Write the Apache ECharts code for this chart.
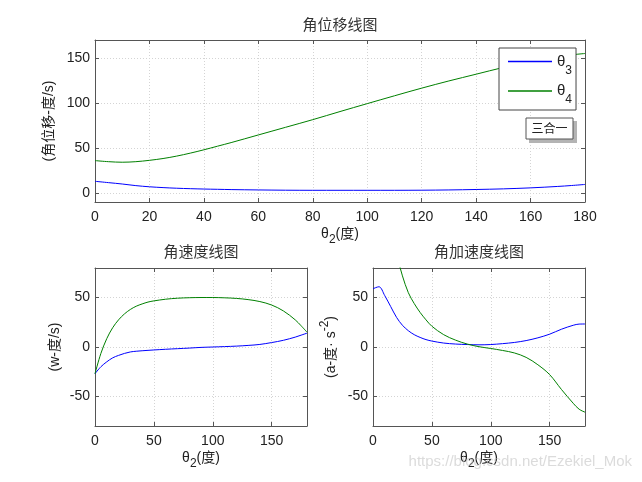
<!DOCTYPE html>
<html><head><meta charset="utf-8">
<script src="https://cdn.jsdelivr.net/npm/echarts@6.0.0/dist/echarts.min.js"></script>
<style>html,body{margin:0;padding:0;background:#fff}#c{width:642px;height:482px}</style>
</head><body><div id="c"></div>
<script>
// x values: crank angle theta2 (deg)
const theta2 = [0,5,10,15,20,25,30,35,40,45,50,60,70,80,90,100,110,120,130,140,150,160,170,175,180];
// angular displacement (deg)
const theta3 = [13,11.5,10,8.2,6.9,6,5.3,4.8,4.4,4.1,3.8,3.4,3.1,3,3,3,3,3.1,3.4,3.9,4.6,5.7,7.3,8.3,9.5];
const theta4 = [36,34.8,34.2,34.8,36.3,38.3,41,44.3,48,52,56,64.5,73,81.5,90.5,99.3,108,116.5,124.5,132,139.5,146,151.5,153.5,155];
// angular velocity
const omega3 = [-27,-20,-15,-11,-8.5,-6.5,-5,-4.3,-3.8,-3.4,-3,-2.3,-1.7,-1.1,-0.4,0,0.4,0.9,1.6,2.6,4.5,6.8,10,12,14];
const omega4 = [-27,-6.5,8.5,19.5,27.5,33.5,38,41.3,43.6,45.5,46.7,48.4,49.4,49.9,50.1,50.1,49.8,49.2,48,46,42.5,36.5,27.5,21.5,15];
// angular acceleration
const alpha3 = [59,61,52,41,30,22,16.5,12.5,9.7,7.5,6,4,3,2.5,2.2,2.5,3.4,4.6,6.5,9.3,13,18,22,23.2,23.3];
const alpha4 = [175,150,128,110,93,72,55,44,35,27.5,21,12.5,7,3,0.3,-1.5,-3.5,-6,-10.5,-18,-28,-43,-57,-63,-66];

const xTicksTop = [0,20,40,60,80,100,120,140,160,180];
const yTicksTop = [0,50,100,150];
const xTicksBot = [0,50,100,150];
const yTicksBot = [-50,0,50];

const pair = (xs, ys) => xs.map((x, i) => [x, ys[i]]);
const BLUE = '#0000ff', GREEN = '#008000';
const FONT = "'Liberation Sans', 'Noto Sans CJK SC', sans-serif";
const AX = '#555';

const richName = {
  t: {fontSize: 14, fontFamily: FONT, color: '#222', lineHeight: 24, verticalAlign: 'middle'},
  s: {fontSize: 12, fontFamily: FONT, color: '#222', lineHeight: 24, verticalAlign: 'bottom'},
  p: {fontSize: 12, fontFamily: FONT, color: '#222', lineHeight: 24, verticalAlign: 'top'}
};

function xAxisMain(grid, ticks, min, max) {
  return {
    type: 'value', gridIndex: grid, min, max, position: 'bottom',
    name: '{t|θ}{s|2}{t|(度)}', nameLocation: 'middle', nameGap: 20,
    nameTextStyle: {rich: richName},
    axisLine: {show: true, onZero: false, lineStyle: {color: AX, width: 1}},
    axisTick: {show: true, inside: true, length: 4, customValues: ticks, lineStyle: {color: AX}},
    axisLabel: {show: true, customValues: ticks, margin: 8, fontSize: 14, fontFamily: FONT, color: '#222'},
    splitLine: {show: true, lineStyle: {color: '#d4d4d4', type: [1, 2]}}
  };
}
function xAxisTop(grid, ticks, min, max) {
  return {
    type: 'value', gridIndex: grid, min, max, position: 'top',
    axisLine: {show: true, onZero: false, lineStyle: {color: AX, width: 1}},
    axisTick: {show: true, inside: true, length: 4, customValues: ticks, lineStyle: {color: AX}},
    axisLabel: {show: false}, splitLine: {show: false}
  };
}
function yAxisMain(grid, ticks, min, max, name, gap) {
  return {
    type: 'value', gridIndex: grid, min, max, position: 'left',
    name, nameLocation: 'middle', nameGap: gap, nameRotate: 90,
    nameTextStyle: {rich: richName},
    axisLine: {show: true, onZero: false, lineStyle: {color: AX, width: 1}},
    axisTick: {show: true, inside: true, length: 4, customValues: ticks, lineStyle: {color: AX}},
    axisLabel: {show: true, customValues: ticks, margin: 5, fontSize: 14, fontFamily: FONT, color: '#222'},
    splitLine: {show: true, lineStyle: {color: '#d4d4d4', type: [1, 2]}}
  };
}
function yAxisRight(grid, ticks, min, max) {
  return {
    type: 'value', gridIndex: grid, min, max, position: 'right',
    axisLine: {show: true, onZero: false, lineStyle: {color: AX, width: 1}},
    axisTick: {show: true, inside: true, length: 4, customValues: ticks, lineStyle: {color: AX}},
    axisLabel: {show: false}, splitLine: {show: false}
  };
}
function line(name, xi, yi, xs, ys, color) {
  return {
    name, type: 'line', xAxisIndex: xi, yAxisIndex: yi, data: pair(xs, ys),
    showSymbol: false, symbol: 'none', smooth: 0.35, clip: true,
    lineStyle: {color, width: 1}, itemStyle: {color}, z: 3
  };
}

const chart = echarts.init(document.getElementById('c'), null, {renderer: 'canvas'});
chart.setOption({
  animation: false,
  backgroundColor: '#fff',
  grid: [
    {left: 95, top: 40, width: 490, height: 162},
    {left: 95, top: 268, width: 212, height: 158},
    {left: 373, top: 268, width: 212, height: 158}
  ],
  xAxis: [
    xAxisMain(0, xTicksTop, 0, 180), xAxisTop(0, xTicksTop, 0, 180),
    xAxisMain(1, xTicksBot, 0, 180), xAxisTop(1, xTicksBot, 0, 180),
    xAxisMain(2, xTicksBot, 0, 180), xAxisTop(2, xTicksBot, 0, 180)
  ],
  yAxis: [
    yAxisMain(0, yTicksTop, -10, 170, '{t|(角位移-度/s)}', 34), yAxisRight(0, yTicksTop, -10, 170),
    yAxisMain(1, yTicksBot, -80, 80, '{t|(w-度/s)}', 28), yAxisRight(1, yTicksBot, -80, 80),
    yAxisMain(2, yTicksBot, -80, 80, '{t|(a-度· s}{p|-2}{t|)}', 30), yAxisRight(2, yTicksBot, -80, 80)
  ],
  legend: {
    data: ['θ3', 'θ4'], orient: 'vertical', left: 499, top: 48,
    padding: [6, 4, 4, 9], itemGap: 7, itemWidth: 44, itemHeight: 1.5, icon: 'rect',
    backgroundColor: '#fff', borderColor: '#444', borderWidth: 1, borderRadius: 0,
    selectedMode: false,
    formatter: n => n === 'θ3' ? '{t|θ}{s|3}' : '{t|θ}{s|4}',
    textStyle: {rich: {
      t: {fontSize: 15, fontFamily: FONT, color: '#222', lineHeight: 20, verticalAlign: 'middle'},
      s: {fontSize: 12, fontFamily: FONT, color: '#222', lineHeight: 20, verticalAlign: 'bottom', padding: [0,0,-5,0]}
    }}
  },
  series: [
    line('θ3', 0, 0, theta2, theta3, BLUE),
    line('θ4', 0, 0, theta2, theta4, GREEN),
    line('ω3', 2, 2, theta2, omega3, BLUE),
    line('ω4', 2, 2, theta2, omega4, GREEN),
    line('α3', 4, 4, theta2, alpha3, BLUE),
    line('α4', 4, 4, theta2, alpha4, GREEN)
  ],
  graphic: [
    {type: 'text', x: 340, y: 24, style: {text: '角位移线图', align: 'center', verticalAlign: 'middle', font: "15px 'Noto Sans CJK SC'", fill: '#333'}},
    {type: 'text', x: 201, y: 251, style: {text: '角速度线图', align: 'center', verticalAlign: 'middle', font: "15px 'Noto Sans CJK SC'", fill: '#333'}},
    {type: 'text', x: 479, y: 251, style: {text: '角加速度线图', align: 'center', verticalAlign: 'middle', font: "15px 'Noto Sans CJK SC'", fill: '#333'}},
    {type: 'rect', shape: {x: 529, y: 121, width: 48, height: 22}, style: {fill: '#b4b4b4'}, z: 10},
    {type: 'rect', shape: {x: 526, y: 118, width: 47, height: 21}, style: {fill: '#fff', stroke: '#555', lineWidth: 1}, z: 11},
    {type: 'text', x: 549.5, y: 128.5, z: 12, style: {text: '三合一', align: 'center', verticalAlign: 'middle', font: "12px 'Noto Sans CJK SC'", fill: '#222'}},
    {type: 'text', x: 632, y: 462, z: 1, style: {text: 'https://blog.csdn.net/Ezekiel_Mok', align: 'right', verticalAlign: 'middle', font: "15px 'Liberation Sans'", fill: 'rgba(190,190,190,0.55)'}}
  ]
});
</script></body></html>
